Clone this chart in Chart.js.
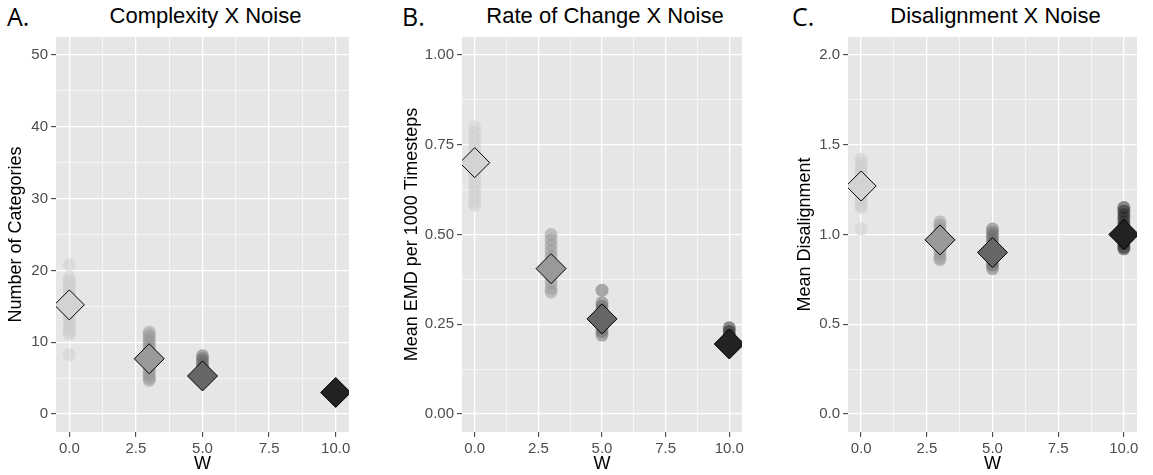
<!DOCTYPE html>
<html>
<head>
<meta charset="utf-8">
<script src="https://cdn.jsdelivr.net/npm/chart.js@4.4.1/dist/chart.umd.min.js"></script>
<style>
  body { margin: 0; background: #fff; }
  #wrap { position: relative; width: 1153px; height: 475px; overflow: hidden; font-family: "Liberation Sans", Arial, sans-serif; }
  #wrap canvas { position: absolute; }
  .tag { position: absolute; top: -1px; font-family: "Open Sans", sans-serif; font-size: 25px; line-height: 34px; color: #000; }
  .title { position: absolute; top: 2px; font-size: 22px; line-height: 28px; text-align: center; color: #000; }
</style>
</head>
<body>
<div id="wrap"></div>
<script>
// noise levels (W) and axis ticks
const wLevels = [0, 3, 5, 10];
const xTicks = [0, 2.5, 5, 7.5, 10];

// A. number of categories, one value per run
const catsW0 = [20.8, 19.0, 18.6, 18.2, 17.8, 17.4, 17.0, 16.6, 16.2, 15.8, 15.4, 15.0, 14.6, 14.2, 13.8, 13.4, 13.0, 12.6, 12.2, 11.8, 11.4, 11.1, 8.3];
const catsW3 = [11.4, 11.0, 10.6, 10.2, 9.8, 9.4, 9.0, 8.6, 8.2, 7.8, 7.4, 7.0, 6.6, 6.2, 5.8, 5.4, 5.0, 4.7];
const catsW5 = [8.1, 7.7, 7.3, 6.9, 6.5, 6.1, 5.7, 5.3, 4.9, 4.5];
const catsW10 = [3.6, 3.3, 3.0, 2.7, 2.4];
const catsMean = [15.2, 7.7, 5.3, 3.0];
const catsTicks = [0, 10, 20, 30, 40, 50];

// B. mean EMD per 1000 timesteps
const rateW0 = [0.80, 0.785, 0.77, 0.755, 0.74, 0.725, 0.71, 0.695, 0.68, 0.665, 0.65, 0.635, 0.62, 0.605, 0.59, 0.58];
const rateW3 = [0.50, 0.485, 0.47, 0.455, 0.44, 0.425, 0.41, 0.395, 0.38, 0.365, 0.35, 0.34];
const rateW5 = [0.345, 0.31, 0.30, 0.29, 0.28, 0.27, 0.26, 0.25, 0.24, 0.23, 0.22];
const rateW10 = [0.24, 0.23, 0.22, 0.21, 0.20, 0.19, 0.18];
const rateMean = [0.70, 0.405, 0.265, 0.195];
const rateTicks = [0, 0.25, 0.5, 0.75, 1];

// C. mean disalignment
const disW0 = [1.42, 1.40, 1.38, 1.36, 1.34, 1.32, 1.30, 1.28, 1.26, 1.24, 1.22, 1.20, 1.18, 1.16, 1.15, 1.03];
const disW3 = [1.07, 1.05, 1.03, 1.01, 0.99, 0.97, 0.95, 0.93, 0.91, 0.89, 0.87, 0.86];
const disW5 = [1.03, 1.01, 0.99, 0.97, 0.95, 0.93, 0.91, 0.89, 0.87, 0.85, 0.83, 0.81];
const disW10 = [1.15, 1.13, 1.11, 1.09, 1.07, 1.05, 1.03, 1.01, 0.99, 0.97, 0.95, 0.93, 0.92];
const disMean = [1.27, 0.97, 0.90, 1.00];
const disTicks = [0, 0.5, 1, 1.5, 2];

const greys = ["#d3d3d3", "#999999", "#666666", "#222222"];
const greysAlpha = ["rgba(205,205,205,0.5)", "rgba(150,150,150,0.5)", "rgba(100,100,100,0.5)", "rgba(34,34,34,0.5)"];
const FONT = "'Liberation Sans', Arial, sans-serif";

const panels = [
  { tag: "A.", tagX: 7, title: "Complexity X Noise", yTitle: "Number of Categories",
    runs: [catsW0, catsW3, catsW5, catsW10], means: catsMean, yTicks: catsTicks,
    fmt: (v) => v.toFixed(0), left: 0, plotLeft: 56, plotRight: 355 },
  { tag: "B.", tagX: 402, title: "Rate of Change X Noise", yTitle: "Mean EMD per 1000 Timesteps",
    runs: [rateW0, rateW3, rateW5, rateW10], means: rateMean, yTicks: rateTicks,
    fmt: (v) => v.toFixed(2), left: 396, plotLeft: 462, plotRight: 748 },
  { tag: "C.", tagX: 792, title: "Disalignment X Noise", yTitle: "Mean Disalignment",
    runs: [disW0, disW3, disW5, disW10], means: disMean, yTicks: disTicks,
    fmt: (v) => v.toFixed(1), left: 789, plotLeft: 848, plotRight: 1143 },
];

const canvasTop = 17;
const canvasH = 458;
const padTop = 20;
const padRight = 10;

const panelBg = {
  id: "panelBg",
  beforeDraw(chart) {
    const { ctx, chartArea: a } = chart;
    ctx.save();
    ctx.fillStyle = "#e6e6e6";
    ctx.fillRect(a.left, a.top, a.right - a.left, a.bottom - a.top);
    ctx.restore();
  },
};

// major ticks plus ggplot-style minor breaks halfway between them
function withMinors(major) {
  const out = [];
  major.forEach((v, i) => {
    out.push({ value: v });
    if (i < major.length - 1) out.push({ value: (v + major[i + 1]) / 2, minor: true });
  });
  return out;
}

const gridOpts = {
  color: "#ffffff",
  lineWidth: (c) => (c.tick && c.tick.minor ? 0.6 : 1.3),
  tickColor: (c) => (c.tick && c.tick.minor ? "rgba(0,0,0,0)" : "#333333"),
  tickWidth: 1,
  tickLength: 5,
};

const wrap = document.getElementById("wrap");

panels.forEach((p) => {
  const tag = document.createElement("div");
  tag.className = "tag";
  tag.style.left = p.tagX + "px";
  tag.textContent = p.tag;
  wrap.appendChild(tag);

  const title = document.createElement("div");
  title.className = "title";
  title.style.left = p.plotLeft + "px";
  title.style.width = p.plotRight - p.plotLeft + "px";
  title.textContent = p.title;
  wrap.appendChild(title);

  const canvas = document.createElement("canvas");
  canvas.width = p.plotRight + padRight - p.left;
  canvas.height = canvasH;
  canvas.style.left = p.left + "px";
  canvas.style.top = canvasTop + "px";
  wrap.appendChild(canvas);

  // means first so the diamonds are drawn on top of the run dots
  const datasets = [
    {
      label: "mean",
      data: wLevels.map((w, i) => ({ x: w, y: p.means[i] })),
      pointStyle: "rectRot",
      pointRadius: 15,
      backgroundColor: greys,
      borderColor: "#000000",
      borderWidth: 1,
    },
  ];
  p.runs.forEach((vals, i) => {
    datasets.push({
      label: "W=" + wLevels[i],
      data: vals.map((v) => ({ x: wLevels[i], y: v })),
      pointStyle: "circle",
      pointRadius: 6.5,
      backgroundColor: greysAlpha[i],
      borderWidth: 0,
    });
  });

  const yMin = p.yTicks[0], yMax = p.yTicks[p.yTicks.length - 1];
  const yPad = (yMax - yMin) * 0.05;

  new Chart(canvas.getContext("2d"), {
    type: "scatter",
    data: { datasets: datasets },
    plugins: [panelBg],
    options: {
      responsive: false,
      animation: false,
      layout: { padding: { top: padTop, right: padRight, bottom: 0, left: 0 } },
      plugins: { legend: { display: false }, tooltip: { enabled: false } },
      scales: {
        x: {
          type: "linear",
          min: -0.5,
          max: 10.5,
          afterBuildTicks: (s) => { s.ticks = withMinors(xTicks); },
          afterFit: (s) => { s.height = 43; },
          border: { display: false },
          grid: gridOpts,
          ticks: {
            autoSkip: false,
            maxRotation: 0,
            padding: 3,
            color: "#4d4d4d",
            font: { family: FONT, size: 15 },
            callback: (v, i, t) => (t[i].minor ? "" : v.toFixed(1)),
          },
          title: { display: true, text: "W", color: "#000", font: { family: FONT, size: 18 }, padding: { top: 0, bottom: 0 } },
        },
        y: {
          type: "linear",
          min: yMin - yPad,
          max: yMax + yPad,
          afterBuildTicks: (s) => { s.ticks = withMinors(p.yTicks); },
          afterFit: (s) => { s.width = p.plotLeft - p.left; },
          border: { display: false },
          grid: gridOpts,
          ticks: {
            autoSkip: false,
            padding: 3,
            color: "#4d4d4d",
            font: { family: FONT, size: 15 },
            callback: (v, i, t) => (t[i].minor ? "" : p.fmt(v)),
          },
          title: { display: true, text: p.yTitle, color: "#000", font: { family: FONT, size: 18 }, padding: { top: 5, bottom: 0 } },
        },
      },
    },
  });
});
</script>
</body>
</html>
